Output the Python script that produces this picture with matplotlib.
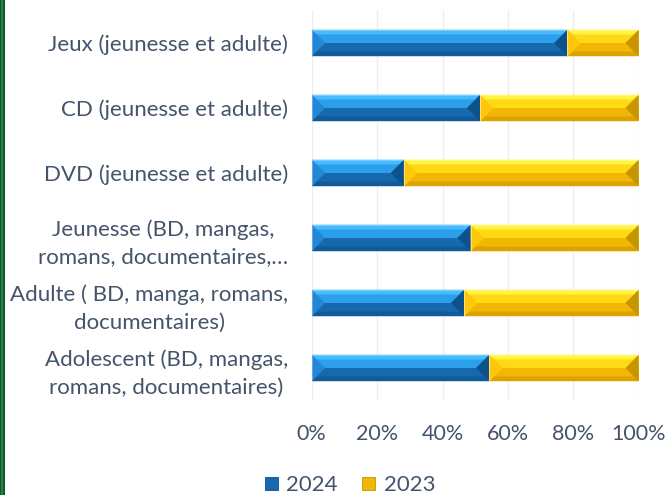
import numpy as np
import matplotlib.pyplot as plt
from matplotlib.patches import Polygon, Rectangle, Patch

plt.rcParams['font.family'] = ['Lato', 'DejaVu Sans']

# Donnees (parts en %)
categories = ["Jeux (jeunesse et adulte)",
              "CD (jeunesse et adulte)",
              "DVD (jeunesse et adulte)",
              "Jeunesse (BD, mangas,\nromans, documentaires,\u2026",
              "Adulte ( BD, manga, romans,\ndocumentaires)",
              "Adolescent (BD, mangas,\nromans, documentaires)"]
part_2024 = [78.2, 51.5, 28.2, 48.6, 46.6, 54.3]
part_2023 = [100 - v for v in part_2024]
series = ["2024", "2023"]
xticks = [0, 20, 40, 60, 80, 100]

txt_col = '#44546a'
# couleurs biseau : bande haute, moitie haute, moitie basse, bande basse, bout gauche, bout droit
pal = {
    "2024": ['#46bcff', '#2c9fea', '#1769ad', '#125b99', '#2387d8', '#0e528c'],
    "2023": ['#fff444', '#ffd914', '#f2b705', '#dca300', '#ffc70a', '#c79500'],
}

fig = plt.figure(figsize=(6.67, 4.95), dpi=100)
ax = fig.add_axes([0.4673, 0.1909, 0.4903, 0.7879])
ax.set_xlim(0, 100)
ax.set_ylim(len(categories) - 0.5, -0.5)

# bande verte a gauche
fig.patches.append(Rectangle((0, 0), 5 / 667, 1, transform=fig.transFigure,
                             facecolor='#0b5a2c', edgecolor='none'))
fig.patches.append(Rectangle((1.5 / 667, 0), 1.2 / 667, 1, transform=fig.transFigure,
                             facecolor='#2f7d48', edgecolor='none'))

# pixels par unite
p0 = ax.transData.transform((0, 0))
p1 = ax.transData.transform((100, 1))
px_x = abs(p1[0] - p0[0]) / 100
px_y = abs(p1[1] - p0[1])

h = 0.41


def bevel_bar(x0, x1, yc, cols):
    yt, yb = yc - h / 2, yc + h / 2
    ym = yc
    d = (h / 2) * px_y / px_x  # largeur du biseau en unites x
    d = min(d, (x1 - x0) / 2)
    s = 0.18 * h
    ds = s * px_y / px_x
    polys = [
        ([(x0, yt), (x1, yt), (x1, ym), (x0, ym)], cols[1]),
        ([(x0, ym), (x1, ym), (x1, yb), (x0, yb)], cols[2]),
        ([(x0, yt), (x1, yt), (x1 - ds, yt + s), (x0 + ds, yt + s)], cols[0]),
        ([(x0, yb), (x1, yb), (x1 - ds, yb - s), (x0 + ds, yb - s)], cols[3]),
        ([(x0, yt), (x0 + d, ym), (x0, yb)], cols[4]),
        ([(x1, yt), (x1 - d, ym), (x1, yb)], cols[5]),
    ]
    for pts, c in polys:
        ax.add_patch(Polygon(pts, closed=True, facecolor=c, edgecolor='none', zorder=3))
    ax.add_patch(Rectangle((x0, yt), x1 - x0, h, facecolor='none',
                           edgecolor='#ffffff', lw=0.4, alpha=0.5, zorder=4))


y = np.arange(len(categories))
left = np.zeros(len(categories))
for name, vals in zip(series, [part_2024, part_2023]):
    for yi, l, v in zip(y, left, vals):
        bevel_bar(l, l + v, yi, pal[name])
    left = left + np.array(vals)

ax.set_xticks(xticks)
ax.set_xticklabels([f"{t}%" for t in xticks])
ax.set_yticks(y)
ax.set_yticklabels(categories, multialignment='center', linespacing=1.45)
ax.tick_params(axis='both', length=0, labelcolor=txt_col)
ax.tick_params(axis='y', pad=17, labelsize=16)
ax.tick_params(axis='x', pad=17, labelsize=15.5)
ax.grid(axis='x', color='#eeeeee', lw=1, zorder=0)
for sp in ax.spines.values():
    sp.set_visible(False)

handles = [Patch(facecolor=pal[s][2], edgecolor=pal[s][5], lw=0.6) for s in series]
fig.legend(handles, series, loc='center', bbox_to_anchor=(0.525, 0.02),
           ncol=2, frameon=False, fontsize=16, labelcolor=txt_col,
           handlelength=0.55, handleheight=0.55, handletextpad=0.4, columnspacing=1.1)

fig.savefig('out.png', dpi=100)
